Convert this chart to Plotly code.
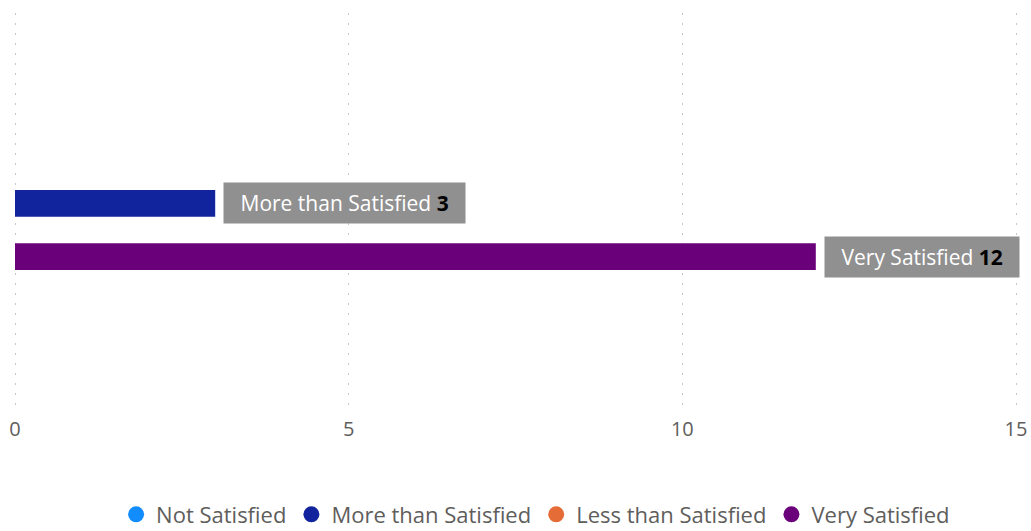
import plotly.graph_objects as go

# Satisfaction survey counts, one series per response level
series_names = ["Not Satisfied", "More than Satisfied", "Less than Satisfied", "Very Satisfied"]
series_values = [None, 3, None, 12]
series_colors = ["#118DFF", "#12239E", "#E66C37", "#6B007B"]
category = ["Satisfaction"]
x_ticks = [0, 5, 10, 15]

FONT = "Open Sans, Segoe UI, sans-serif"
GREY_TEXT = "#605E5C"
BARGAP = 0.73

fig = go.Figure()

# One bar trace per series, grouped within the single category
for name, val, col in zip(series_names, series_values, series_colors):
    fig.add_trace(go.Bar(
        y=category, x=[val], name=name, orientation="h",
        marker=dict(color=col, line=dict(width=0)),
        showlegend=False, hoverinfo="x+name",
    ))

# Round legend markers
for name, col in zip(series_names, series_colors):
    fig.add_trace(go.Scatter(
        x=[None], y=[None], mode="markers", name=name,
        marker=dict(color=col, size=18, symbol="circle"),
        showlegend=True,
    ))

# Data labels: grey callout right of each bar, bold value in black
n = len(series_names)
slot = (1 - BARGAP) / n
pad = "\u2002"
annotations = []
for i, (name, val) in enumerate(zip(series_names, series_values)):
    if val is None:
        continue
    ypos = -(1 - BARGAP) / 2 + (i + 0.5) * slot
    annotations.append(dict(
        x=val, y=ypos, xref="x", yref="y",
        text=f"{pad}{name} <span style='color:#000000'><b>{val}</b></span>{pad}",
        showarrow=False, xanchor="left", yanchor="middle", xshift=8,
        font=dict(family=FONT, size=21, color="#FFFFFF"),
        bgcolor="#909090", borderpad=6,
    ))

fig.update_layout(
    width=1031, height=531,
    margin=dict(l=13, r=13, t=13, b=124, autoexpand=False),
    paper_bgcolor="#FFFFFF", plot_bgcolor="#FFFFFF",
    barmode="group", bargap=BARGAP, bargroupgap=0,
    font=dict(family=FONT, color=GREY_TEXT),
    xaxis=dict(
        range=[-0.03, 15.03], tickvals=x_ticks, ticktext=[str(t) for t in x_ticks],
        showgrid=True, gridcolor="#C8C8C8", gridwidth=1, griddash="2px,8px",
        zeroline=False, showline=False, ticks="",
        tickfont=dict(family=FONT, size=20, color=GREY_TEXT),
        ticklabelstandoff=8, automargin=False,
    ),
    yaxis=dict(
        type="category", range=[0.483, -0.517],
        showgrid=False, zeroline=False, showline=False,
        showticklabels=False, ticks="", automargin=False,
    ),
    legend=dict(
        orientation="h", x=0.52, xanchor="center", y=-0.273, yanchor="middle",
        font=dict(family=FONT, size=22, color=GREY_TEXT),
        itemwidth=30, tracegroupgap=0,
    ),
    annotations=annotations,
)

fig.write_html("out.html")
